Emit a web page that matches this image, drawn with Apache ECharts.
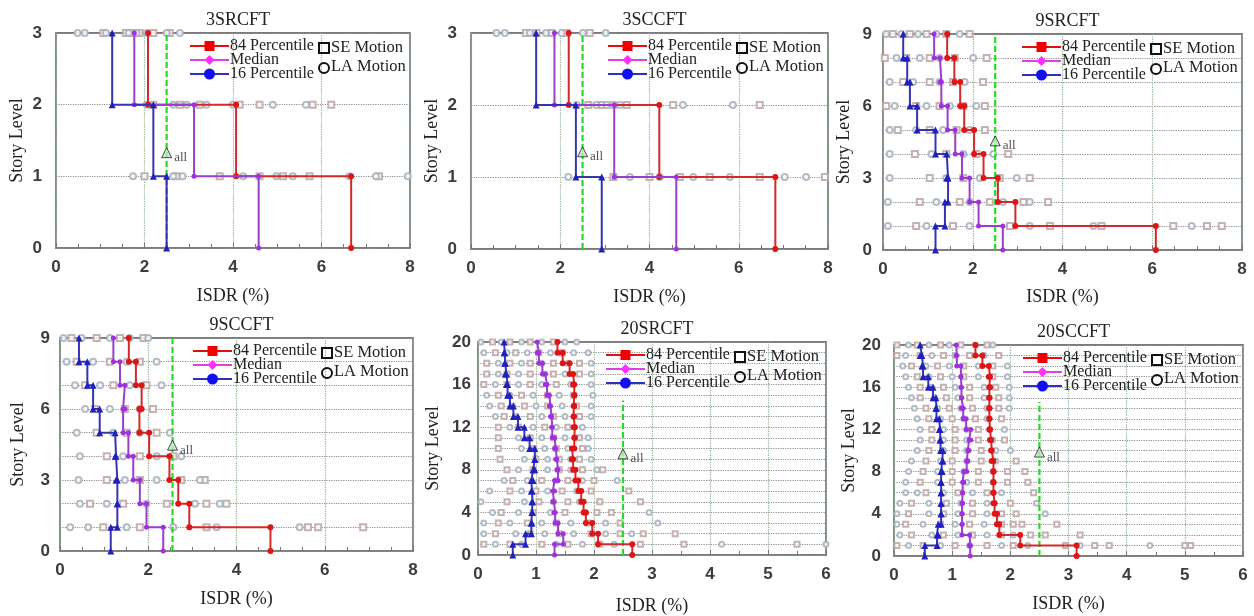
<!DOCTYPE html>
<html><head><meta charset="utf-8">
<script src="https://cdn.jsdelivr.net/npm/echarts@6/dist/echarts.min.js"></script>
<style>html,body{margin:0;padding:0;background:#fff}#c{width:1254px;height:616px}</style>
</head><body><div id="c"></div>
<script>
// ---------- DATA ----------
const titles = ['3SRCFT','3SCCFT','9SRCFT','9SCCFT','20SRCFT','20SCCFT'];
const xMax = [8, 8, 8, 8, 6, 6];
const xStep = [2, 2, 2, 2, 1, 1];
const yMax = [3, 3, 9, 9, 20, 20];
const yLabelStep = [1, 1, 3, 3, 4, 4];
const xTickLabels = [[0,2,4,6,8],[0,2,4,6,8],[0,2,4,6,8],[0,2,4,6,8],[0,1,2,3,4,5,6],[0,1,2,3,4,5,6]];

// story ISDR profiles (story 1 .. N)
const p84_3SR = [6.67, 4.07, 2.08];
const med_3SR = [4.58, 3.12, 1.77];
const p16_3SR = [2.5, 2.2, 1.27];
const p84_3SC = [6.82, 4.22, 2.19];
const med_3SC = [4.6, 3.21, 1.87];
const p16_3SC = [2.93, 2.35, 1.46];
const p84_9SR = [6.08, 2.95, 2.56, 2.24, 2.03, 1.81, 1.72, 1.59, 1.43];
const med_9SR = [2.67, 2.13, 1.93, 1.76, 1.61, 1.44, 1.30, 1.27, 1.14];
const p16_9SR = [1.17, 1.38, 1.45, 1.42, 1.17, 0.76, 0.60, 0.54, 0.45];
const p84_9SC = [4.77, 2.93, 2.68, 2.48, 2.02, 1.80, 1.85, 1.72, 1.56];
const med_9SC = [2.34, 1.96, 1.81, 1.66, 1.55, 1.43, 1.47, 1.36, 1.21];
const p16_9SC = [1.15, 1.30, 1.30, 1.27, 1.25, 0.90, 0.75, 0.62, 0.43];
const p84_20SR = [2.66, 2.07, 1.97, 1.86, 1.82, 1.78, 1.73, 1.68, 1.64, 1.62, 1.66, 1.67, 1.65, 1.65, 1.66, 1.66, 1.64, 1.58, 1.46, 1.37];
const med_20SR = [1.32, 1.47, 1.38, 1.33, 1.31, 1.29, 1.32, 1.38, 1.36, 1.34, 1.32, 1.28, 1.27, 1.25, 1.23, 1.19, 1.16, 1.11, 1.05, 1.02];
const p16_20SR = [0.60, 0.82, 0.92, 0.93, 0.94, 0.93, 0.92, 0.95, 0.98, 0.98, 0.89, 0.80, 0.69, 0.61, 0.55, 0.51, 0.49, 0.47, 0.46, 0.45];
const p84_20SC = [3.14, 2.17, 1.81, 1.77, 1.73, 1.71, 1.71, 1.71, 1.71, 1.68, 1.67, 1.65, 1.64, 1.64, 1.64, 1.64, 1.65, 1.63, 1.52, 1.40];
const med_20SC = [1.31, 1.30, 1.17, 1.17, 1.17, 1.18, 1.18, 1.20, 1.25, 1.27, 1.29, 1.32, 1.24, 1.19, 1.16, 1.16, 1.15, 1.15, 1.08, 1.07];
const p16_20SC = [0.53, 0.74, 0.76, 0.81, 0.81, 0.81, 0.81, 0.81, 0.83, 0.84, 0.80, 0.79, 0.78, 0.73, 0.72, 0.67, 0.59, 0.50, 0.48, 0.45];

// individual records, per level (index 0 = level 1)
const se_3SR = [[2.0, 2.72, 3.7, 4.6, 5.13, 5.73, 7.3], [2.2, 2.8, 3.25, 4.15, 4.6, 5.8, 6.22], [1.07, 1.58, 1.71, 1.89, 2.2, 2.57]];
const la_3SR = [[1.74, 2.65, 2.86, 4.23, 4.98, 5.35, 6.63, 7.23, 7.95], [2.05, 2.65, 2.95, 3.4, 4.0, 4.9, 5.65], [0.49, 0.65, 1.13, 1.64, 1.82, 2.05, 2.5, 2.8]];
const se_3SC = [[3.19, 4.0, 4.68, 5.35, 6.47, 7.93], [2.63, 2.93, 3.19, 3.49, 4.53, 6.47], [1.23, 1.47, 1.81, 2.14, 2.66]];
const la_3SC = [[2.18, 3.56, 4.23, 4.98, 5.8, 7.03, 7.51], [2.37, 2.81, 3.04, 3.34, 4.75, 5.87], [0.57, 0.76, 1.32, 1.68, 2.03, 2.51, 3.02]];
const se_9SR = [[0.74, 1.56, 2.83, 3.72, 4.87, 6.47, 7.22, 7.55], [0.82, 1.71, 2.38, 3.13, 3.68], [1.04, 1.79, 2.6, 3.27], [0.71, 1.41, 2.08, 2.79], [0.33, 1.04, 1.64, 2.27], [0.07, 0.74, 1.26, 1.79, 2.27], [0.45, 1.04, 1.56, 2.23], [0.04, 0.52, 1.04, 1.6, 2.31], [0.22, 0.6, 0.97, 1.41, 1.93]];
const la_9SR = [[0.11, 0.97, 1.93, 3.27, 4.69, 6.88], [0.11, 1.19, 1.93, 2.68, 3.27], [0.15, 1.41, 2.16, 2.98], [0.15, 1.08, 1.79, 2.46], [0.15, 0.74, 1.34, 1.93], [0.26, 0.97, 1.49, 2.08], [0.15, 0.67, 1.26, 1.82], [0.3, 0.82, 1.26, 2.01], [0.07, 0.41, 0.78, 1.19, 1.71]];
const se_9SC = [[0.98, 1.81, 3.32, 5.62, 5.85, 6.87], [0.68, 1.43, 2.42, 3.32, 3.77], [1.06, 1.81, 2.75, 3.28], [1.06, 1.81, 2.57], [0.83, 1.51, 2.19], [0.79, 1.47, 2.11], [0.57, 1.21, 1.96], [0.38, 1.13, 1.81], [0.26, 0.83, 1.36, 1.89]];
const la_9SC = [[0.23, 0.64, 1.51, 2.57, 3.55, 5.43], [0.45, 1.06, 1.96, 3.06, 3.62], [0.42, 1.47, 2.19, 3.17], [0.45, 1.43, 2.19, 2.75], [0.38, 1.21, 1.81, 2.49], [0.57, 1.13, 1.81], [0.34, 0.91, 1.58, 2.3], [0.15, 0.75, 1.51, 2.19], [0.08, 0.49, 1.13, 1.58, 2.0]];
const se_20SR = [[0.1, 0.55, 1.1, 1.55, 2.1, 2.8, 3.55, 5.5], [0.3, 0.9, 1.4, 1.95, 2.45, 2.85, 3.4], [0.35, 0.85, 1.35, 1.9, 2.45], [0.4, 0.95, 1.5, 2.05, 2.3], [0.5, 1.05, 1.55, 2.1, 2.8], [0.55, 1.0, 1.45, 1.95, 2.6], [0.6, 1.1, 1.55, 2.0], [0.5, 0.95, 1.4, 1.8, 2.15], [0.38, 1.0, 1.4, 1.75], [0.35, 0.95, 1.35, 1.8], [0.35, 0.9, 1.3, 1.75], [0.35, 0.7, 1.15, 1.55], [0.45, 0.9, 1.3, 1.75], [0.4, 0.8, 1.2, 1.7], [0.35, 0.75, 1.2, 1.65], [0.1, 0.5, 0.9, 1.35], [0.15, 0.5, 0.9, 1.3, 1.75], [0.15, 0.55, 0.9, 1.3, 1.75], [0.3, 0.65, 1.05, 1.45], [0.25, 0.55, 0.9, 1.3]];
const la_20SR = [[0.3, 0.75, 1.35, 1.8, 2.35, 4.2, 6.0], [0.1, 0.65, 1.15, 1.65, 2.2, 2.65], [0.1, 0.55, 1.1, 1.6, 2.2, 3.1], [0.25, 0.7, 1.25, 1.85, 2.95], [0.05, 0.8, 1.3, 1.75], [0.2, 0.75, 1.2, 1.7], [0.45, 0.85, 1.35, 1.8, 2.4], [0.7, 1.2, 1.6, 2.05], [0.8, 1.2, 1.6, 1.95], [0.75, 1.15, 1.55, 1.9], [0.7, 1.1, 1.5, 1.9], [0.55, 0.95, 1.35, 1.8], [0.3, 0.65, 1.1, 1.5, 1.95], [0.2, 0.6, 1.0, 1.45, 1.95], [0.15, 0.55, 0.95, 1.4, 1.98], [0.3, 0.7, 1.1, 1.6, 1.95], [0.35, 0.7, 1.15, 1.5, 1.95], [0.35, 0.75, 1.1, 1.55, 1.95], [0.1, 0.5, 0.85, 1.25, 1.65, 1.9], [0.05, 0.4, 0.75, 1.1, 1.5, 1.7]];
const se_20SC = [[0.05, 0.5, 1.05, 1.6, 2.05, 2.95, 3.45, 3.7, 5.0, 5.1], [0.3, 0.85, 1.35, 1.85, 2.35, 2.6, 3.2], [0.2, 0.8, 1.3, 1.85, 2.05, 2.2, 2.8], [0.25, 0.85, 1.35, 1.85, 2.1], [0.3, 0.9, 1.35, 2.0], [0.55, 1.1, 1.6, 2.4], [0.45, 1.0, 1.45, 1.95, 2.3], [0.5, 1.0, 1.45, 1.95, 2.25], [0.55, 1.0, 1.5, 2.1], [0.6, 1.05, 1.5], [0.65, 1.05, 1.45, 1.9], [0.65, 1.05, 1.45], [0.6, 1.0, 1.4, 1.85], [0.55, 0.95, 1.35, 1.8], [0.45, 0.9, 1.3, 1.8], [0.45, 0.85, 1.3, 1.75], [0.4, 0.8, 1.2, 1.7], [0.3, 0.75, 1.2, 1.7], [0.05, 0.45, 0.85, 1.3, 1.8], [0.05, 0.4, 0.8, 1.15, 1.6]];
const la_20SC = [[0.25, 0.8, 1.3, 1.85, 2.3, 3.2, 4.4], [0.1, 0.65, 1.1, 1.6, 2.05], [0.05, 0.5, 1.05, 1.55], [0.05, 0.6, 1.1, 1.6, 2.6], [0.1, 0.6, 1.15, 1.6, 2.45], [0.2, 0.4, 0.85, 1.35, 1.85], [0.2, 0.75, 1.25, 1.7], [0.25, 0.75, 1.2, 1.7], [0.3, 0.8, 1.25, 1.75], [0.4, 0.85, 1.25, 1.75, 2.0], [0.45, 0.85, 1.25, 1.7], [0.45, 0.85, 1.25, 1.65, 1.9], [0.4, 0.8, 1.2, 1.6], [0.35, 0.75, 1.15, 1.6, 1.98], [0.3, 0.7, 1.1, 1.55, 1.98], [0.25, 0.65, 1.05, 1.55, 1.98], [0.2, 0.6, 1.0, 1.45, 1.95], [0.15, 0.55, 0.95, 1.45, 1.95], [0.2, 0.65, 1.05, 1.55], [0.25, 0.6, 0.95, 1.4, 1.7]];

// Delta_all limit
const allX = [2.5, 2.5, 2.5, 2.55, 2.5, 2.5];
const allMarkY = [1.33, 1.35, 4.55, 4.47, 9.5, 9.85];
const allLineTop = [3, 3, 9, 9, 14.5, 14.6];

const P84 = [p84_3SR, p84_3SC, p84_9SR, p84_9SC, p84_20SR, p84_20SC];
const MED = [med_3SR, med_3SC, med_9SR, med_9SC, med_20SR, med_20SC];
const P16 = [p16_3SR, p16_3SC, p16_9SR, p16_9SC, p16_20SR, p16_20SC];
const SE = [se_3SR, se_3SC, se_9SR, se_9SC, se_20SR, se_20SC];
const LA = [la_3SR, la_3SC, la_9SR, la_9SC, la_20SR, la_20SC];

// ---------- LAYOUT ----------
const grids = [
  {left: 56, top: 33, width: 354, height: 215},
  {left: 471, top: 33, width: 357, height: 216},
  {left: 883, top: 34, width: 359, height: 216},
  {left: 60, top: 338, width: 353, height: 213},
  {left: 478, top: 342, width: 348, height: 213},
  {left: 894, top: 345, width: 349, height: 211}
];
const yNameGap = [30, 30, 30, 33, 36, 36];
const yLabelMargin = [14, 14, 11, 10, 7, 13];
const xNameGap = [39, 39, 38, 39, 42, 39];

const SERIF = '"Liberation Serif","DejaVu Serif",serif';
const SANS = '"Liberation Sans",Arial,sans-serif';

function stepProfile(vals) {
  const pts = [];
  vals.forEach((v, i) => { pts.push([v, i]); pts.push([v, i + 1]); });
  return pts;
}
function recordPoints(levels) {
  const pts = [];
  levels.forEach((arr, i) => arr.forEach(v => pts.push([v, i + 1])));
  return pts;
}

const option = {
  animation: false,
  backgroundColor: '#fff',
  title: [], grid: [], xAxis: [], yAxis: [], series: [], graphic: []
};

grids.forEach((g, i) => {
  option.grid.push({left: g.left, top: g.top, width: g.width, height: g.height,
    show: true, borderColor: '#7c7c7c', borderWidth: 1.8, backgroundColor: 'transparent'});
  option.title.push({text: titles[i], left: g.left + g.width / 2, top: g.top - 27, textAlign: 'center',
    textStyle: {fontFamily: SERIF, fontSize: 18, fontWeight: 'normal', color: '#222'}});
  option.xAxis.push({gridIndex: i, type: 'value', min: 0, max: xMax[i], interval: xStep[i],
    name: 'ISDR (%)', nameLocation: 'middle', nameGap: xNameGap[i],
    nameTextStyle: {fontFamily: SERIF, fontSize: 18, color: '#222'},
    axisLine: {show: false},
    axisTick: {show: true, inside: true, length: 5, lineStyle: {color: '#777'}},
    minorTick: {show: true, splitNumber: xStep[i] === 2 ? 4 : 2, length: 4, lineStyle: {color: '#777'}},
    axisLabel: {margin: 11, fontFamily: SANS, fontSize: 17, fontWeight: 'bold', color: '#3c3c3c',
      formatter: v => xTickLabels[i].indexOf(v) >= 0 ? String(v) : ''},
    splitLine: {show: true, lineStyle: {type: 'dotted', color: '#8fb08f', width: 1.2}}
  });
  option.yAxis.push({gridIndex: i, type: 'value', min: 0, max: yMax[i], interval: 1,
    name: 'Story Level', nameLocation: 'middle', nameGap: yNameGap[i],
    nameTextStyle: {fontFamily: SERIF, fontSize: 18, color: '#222'},
    axisLine: {show: false}, axisTick: {show: false},
    axisLabel: {margin: yLabelMargin[i], fontFamily: SANS, fontSize: 17, fontWeight: 'bold', color: '#3c3c3c',
      formatter: v => (v % yLabelStep[i] === 0) ? String(v) : ''},
    splitLine: {show: true, lineStyle: {type: 'dotted', color: '#8e8e8e', width: 1.2}}
  });

  const small = yMax[i] >= 20 ? 5 : 6;
  option.series.push({type: 'scatter', xAxisIndex: i, yAxisIndex: i, z: 2, symbol: 'emptyRect', symbolSize: small,
    itemStyle: {color: '#bca4a4', borderWidth: 1, opacity: 0.85}, data: recordPoints(SE[i]), silent: true});
  option.series.push({type: 'scatter', xAxisIndex: i, yAxisIndex: i, z: 2, symbol: 'emptyCircle', symbolSize: small,
    itemStyle: {color: '#a4afbd', borderWidth: 1, opacity: 0.85}, data: recordPoints(LA[i]), silent: true});

  option.series.push({type: 'line', xAxisIndex: i, yAxisIndex: i, z: 3, symbol: 'none',
    lineStyle: {color: '#22dd22', width: 2.2, type: [6, 3]}, data: [[allX[i], 0], [allX[i], allLineTop[i]]]});

  option.series.push({type: 'line', xAxisIndex: i, yAxisIndex: i, z: 4, symbol: 'circle', symbolSize: 6,
    lineStyle: {color: '#d22a2a', width: 2}, itemStyle: {color: '#e01414'}, data: stepProfile(P84[i])});
  option.series.push({type: 'line', xAxisIndex: i, yAxisIndex: i, z: 5, symbol: 'circle', symbolSize: 5,
    lineStyle: {color: '#9a40c8', width: 2}, itemStyle: {color: '#a030e0'}, data: stepProfile(MED[i])});
  option.series.push({type: 'line', xAxisIndex: i, yAxisIndex: i, z: 6, symbol: 'triangle', symbolSize: 7,
    lineStyle: {color: '#3535b0', width: 2}, itemStyle: {color: '#2020c0'}, data: stepProfile(P16[i])});

  option.series.push({type: 'scatter', xAxisIndex: i, yAxisIndex: i, z: 7, symbol: 'triangle', symbolSize: 10,
    itemStyle: {color: '#bfe8bf', borderColor: '#222', borderWidth: 1},
    label: {show: true, position: 'right', formatter: 'all', offset: [-3, 5],
      fontFamily: SERIF, fontSize: 13, color: '#222'},
    data: [[allX[i], allMarkY[i]]]});

  // legend (graphic)
  const R = g.left + g.width;
  const rowY = [g.top + 13, g.top + 27, g.top + 41];
  const lx1 = R - 220, lx2 = R - 181, mx = (lx1 + lx2) / 2;
  const lineCols = ['#e01010', '#e040e0', '#3030c0'];
  const labels = ['84 Percentile', 'Median', '16 Percentile'];
  labels.forEach((t, k) => {
    option.graphic.push({type: 'line', shape: {x1: lx1, y1: rowY[k], x2: lx2, y2: rowY[k]},
      style: {stroke: lineCols[k], lineWidth: 2}, z: 100});
    option.graphic.push({type: 'text', x: lx2 + 1, y: rowY[k], z: 100,
      style: {text: t, font: '16px ' + SERIF, fill: '#222', verticalAlign: 'middle'}});
  });
  option.graphic.push({type: 'rect', shape: {x: mx - 5, y: rowY[0] - 5, width: 10, height: 10}, style: {fill: '#f00000'}, z: 101});
  option.graphic.push({type: 'polygon', shape: {points: [[mx, rowY[1] - 5], [mx + 5, rowY[1]], [mx, rowY[1] + 5], [mx - 5, rowY[1]]]}, style: {fill: '#ff30ff'}, z: 101});
  option.graphic.push({type: 'circle', shape: {cx: mx, cy: rowY[2], r: 5.5}, style: {fill: '#1010f0'}, z: 101});
  const sx = R - 86;
  option.graphic.push({type: 'rect', shape: {x: sx - 5, y: rowY[0] - 3, width: 10, height: 10}, style: {fill: 'none', stroke: '#111', lineWidth: 2}, z: 101});
  option.graphic.push({type: 'text', x: sx + 7, y: rowY[0] + 2, z: 101,
    style: {text: 'SE Motion', font: '16.5px ' + SERIF, fill: '#222', verticalAlign: 'middle'}});
  option.graphic.push({type: 'circle', shape: {cx: sx, cy: rowY[0] + 22, r: 5}, style: {fill: 'none', stroke: '#111', lineWidth: 2}, z: 101});
  option.graphic.push({type: 'text', x: sx + 7, y: rowY[0] + 21, z: 101,
    style: {text: 'LA Motion', font: '16.5px ' + SERIF, fill: '#222', verticalAlign: 'middle'}});
});

const chart = echarts.init(document.getElementById('c'), null, {renderer: 'canvas'});
chart.setOption(option);
</script>
</body></html>
